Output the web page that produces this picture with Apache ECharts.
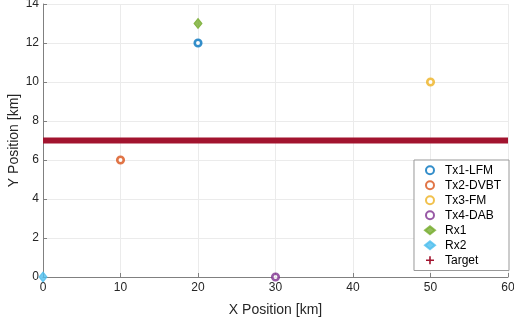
<!DOCTYPE html>
<html><head><meta charset="utf-8">
<script src="https://cdn.jsdelivr.net/npm/echarts@6/dist/echarts.min.js"></script>
<style>html,body{margin:0;padding:0;background:#fff}#c{width:514px;height:322px}</style>
</head><body><div id="c"></div>
<script>
const seriesNames = ['Tx1-LFM','Tx2-DVBT','Tx3-FM','Tx4-DAB','Rx1','Rx2','Target'];
const tx1 = [[20,12]];
const tx2 = [[10,6]];
const tx3 = [[50,10]];
const tx4 = [[30,0]];
const rx1 = [[20,13]];
const rx2 = [[0,0]];
const targetTrack = [[0,7],[60,7]];
const colors = ['#0072BD','#D95319','#EDB120','#7E2F8E','#77AC30','#4DBEEE','#A2142F'];
const xTicks = [0,10,20,30,40,50,60];
const yTicks = [0,2,4,6,8,10,12,14];

const chart = echarts.init(document.getElementById('c'));
const font = 'Liberation Sans, Arial, sans-serif';
function ring(name, data, c){
  return {name, type:'scatter', data, symbol:'circle', symbolSize:6.5, clip:false,
    itemStyle:{color:'#fff', borderColor:c, borderWidth:2.6}, z:5};
}
function dia(name, data, c){
  return {name, type:'scatter', data, symbol:'diamond', symbolSize:[8,10], clip:false,
    itemStyle:{color:c, borderColor:c, borderWidth:1}, z:5};
}
const plus = 'path://M4,0H6V4H10V6H6V10H4V6H0V4H4Z';
chart.setOption({
  animation:false,
  grid:{left:43, right:6, top:4, bottom:45, containLabel:false, outerBoundsMode:'none'},
  xAxis:{type:'value', min:0, max:60, interval:10,
    name:'X Position [km]', nameLocation:'middle', nameGap:26, nameMoveOverlap:false,
    nameTextStyle:{fontFamily:font, fontSize:14, color:'#262626'},
    axisLine:{show:true, lineStyle:{color:'#808080'}},
    axisTick:{show:true, inside:true, length:4, lineStyle:{color:'#808080'}},
    axisLabel:{fontFamily:font, fontSize:12, color:'#262626', margin:5},
    splitLine:{show:true, lineStyle:{color:'#ebebeb'}}},
  yAxis:{type:'value', min:0, max:14, interval:2,
    name:'Y Position [km]', nameLocation:'middle', nameGap:22, nameRotate:90, nameMoveOverlap:false,
    nameTextStyle:{fontFamily:font, fontSize:14, color:'#262626'},
    axisLine:{show:true, lineStyle:{color:'#808080'}},
    axisTick:{show:true, inside:true, length:4, lineStyle:{color:'#808080'}},
    axisLabel:{fontFamily:font, fontSize:12, color:'#262626', margin:4},
    splitLine:{show:true, lineStyle:{color:'#ebebeb'}}},
  legend:{orient:'vertical', right:5, top:160, itemWidth:10, itemHeight:8, itemGap:2.5,
    padding:[4,8,4,10], backgroundColor:'#fff', borderColor:'#999', borderWidth:1,
    textStyle:{fontFamily:font, fontSize:12, lineHeight:12.5, color:'#000', padding:[0,0,0,5]},
    data:[
      {name:'Tx1-LFM'},{name:'Tx2-DVBT'},{name:'Tx3-FM'},{name:'Tx4-DAB'},
      {name:'Rx1'},{name:'Rx2'},
      {name:'Target', icon:plus, itemStyle:{color:colors[6]}}
    ]},
  series:[
    {name:'Target', type:'line', data:targetTrack, symbol:'none', z:2,
      lineStyle:{color:colors[6], width:6}, itemStyle:{color:colors[6]}},
    ring(seriesNames[0], tx1, colors[0]),
    ring(seriesNames[1], tx2, colors[1]),
    ring(seriesNames[2], tx3, colors[2]),
    ring(seriesNames[3], tx4, colors[3]),
    dia(seriesNames[4], rx1, colors[4]),
    dia(seriesNames[5], rx2, colors[5])
  ]
});
</script></body></html>
